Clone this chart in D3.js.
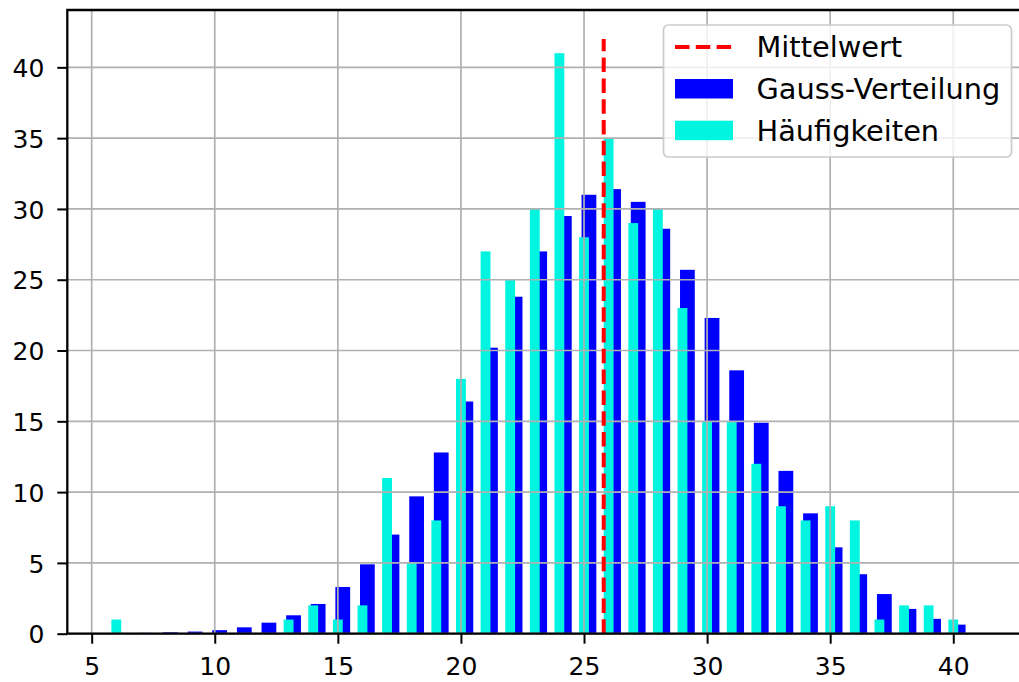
<!DOCTYPE html>
<html>
<head>
<meta charset="utf-8">
<script src="https://d3js.org/d3.v7.min.js"></script>
<style>
    body { margin: 0; background: #fff; }
    text { font-family: 'DejaVu Sans', sans-serif; }
</style>
</head>
<body>
<script>
var werte = [6, 7, 8, 9, 10, 11, 12, 13, 14, 15, 16, 17, 18, 19, 20, 21, 22, 23,
             24, 25, 26, 27, 28, 29, 30, 31, 32, 33, 34, 35, 36, 37, 38, 39, 40];

var haeufigkeiten = [1, 0, 0, 0, 0, 0, 0, 1, 2, 1, 2, 11, 5, 8, 18, 27, 25, 30,
                     41, 28, 35, 29, 30, 23, 15, 15, 12, 9, 8, 9, 8, 1, 2, 2, 1];

var gauss = [0.03, 0.06, 0.1, 0.15, 0.25, 0.45, 0.78, 1.3, 2.1, 3.3, 4.9, 7.0, 9.7, 12.8,
             16.4, 20.2, 23.8, 27.0, 29.5, 31.0, 31.4, 30.5, 28.6, 25.7, 22.3, 18.6,
             14.9, 11.5, 8.5, 6.1, 4.2, 2.8, 1.75, 1.05, 0.64];

var mittelwert = 25.8;
var mittelHoehe = 42;

var xTicks = [5, 10, 15, 20, 25, 30, 35, 40];
var yTicks = [0, 5, 10, 15, 20, 25, 30, 35, 40];

var legende = ['Mittelwert', 'Gauss-Verteilung', 'Häufigkeiten'];

var W = 1019, H = 682;
var BLAU = '#0000ff', TUERKIS = '#00f5e1', ROT = '#ff0000';

var x = d3.scaleLinear().domain([4.01, 42.8]).range([67.3, 1022.2]);
var y = d3.scaleLinear().domain([0, 44.05]).range([633.7, 10]);

var svg = d3.select('body').append('svg')
    .attr('width', W)
    .attr('height', H);

// blaue Balken (Gauss), leicht nach rechts versetzt
svg.append('g').selectAll('rect')
    .data(werte)
    .enter().append('rect')
    .attr('x', function(d) { return x(d - 0.1); })
    .attr('width', function(d) { return x(d + 0.5) - x(d - 0.1); })
    .attr('y', function(d, i) { return y(gauss[i]); })
    .attr('height', function(d, i) { return y(0) - y(gauss[i]); })
    .attr('fill', BLAU);

// tuerkise Balken (Haeufigkeiten)
svg.append('g').selectAll('rect')
    .data(werte)
    .enter().append('rect')
    .attr('x', function(d) { return x(d - 0.2); })
    .attr('width', function(d) { return x(d + 0.2) - x(d - 0.2); })
    .attr('y', function(d, i) { return y(haeufigkeiten[i]); })
    .attr('height', function(d, i) { return y(0) - y(haeufigkeiten[i]); })
    .attr('fill', TUERKIS);

// Gitter
var grid = svg.append('g')
    .attr('stroke', '#b0b0b0')
    .attr('stroke-width', 1.7);

grid.selectAll('.gx')
    .data(xTicks)
    .enter().append('line')
    .attr('x1', function(d) { return x(d); })
    .attr('x2', function(d) { return x(d); })
    .attr('y1', y.range()[0])
    .attr('y2', y.range()[1]);

grid.selectAll('.gy')
    .data(yTicks)
    .enter().append('line')
    .attr('x1', x.range()[0])
    .attr('x2', x.range()[1])
    .attr('y1', function(d) { return y(d); })
    .attr('y2', function(d) { return y(d); });

// Mittelwert
svg.append('path')
    .attr('d', 'M' + [x(mittelwert), y(0)] + ' L' + [x(mittelwert), y(mittelHoehe)])
    .attr('stroke', ROT)
    .attr('stroke-width', 4)
    .attr('stroke-dasharray', '14.5,6.3')
    .attr('fill', 'none');

// Achsen
var xAxis = svg.append('g')
    .attr('transform', 'translate(0,' + y(0) + ')')
    .call(d3.axisBottom(x).tickValues(xTicks).tickSize(10).tickPadding(12).tickFormat(d3.format('d')));

var yAxis = svg.append('g')
    .attr('transform', 'translate(' + x.range()[0] + ',0)')
    .call(d3.axisLeft(y).tickValues(yTicks).tickSize(10).tickPadding(13).tickFormat(d3.format('d')));

[xAxis, yAxis].forEach(function(a) {
    a.select('.domain').remove();
    a.selectAll('.tick line').attr('stroke', '#000').attr('stroke-width', 2);
    a.selectAll('.tick text')
        .attr('fill', '#000')
        .style('font-size', '25px')
        .style('font-family', "'DejaVu Sans', sans-serif");
});
xAxis.selectAll('.tick text').attr('dy', '0.76em');
yAxis.selectAll('.tick text').attr('dy', '0.37em');

// Rahmen
svg.append('path')
    .attr('d', 'M' + [x.range()[0], y.range()[0]] + ' L' + [x.range()[0], y.range()[1]] +
               ' L' + [x.range()[1], y.range()[1]])
    .attr('fill', 'none')
    .attr('stroke', '#000')
    .attr('stroke-width', 2.3);
svg.append('path')
    .attr('d', 'M' + [x.range()[0] - 1, y.range()[0]] + ' L' + [x.range()[1], y.range()[0]])
    .attr('stroke', '#000')
    .attr('stroke-width', 2.3);

// Legende
var leg = svg.append('g');

leg.append('rect')
    .attr('x', 663.5)
    .attr('y', 25)
    .attr('width', 348)
    .attr('height', 132)
    .attr('rx', 5)
    .attr('fill', '#fff')
    .attr('fill-opacity', 0.8)
    .attr('stroke', '#cccccc')
    .attr('stroke-width', 1.7);

leg.append('path')
    .attr('d', 'M' + [675, 47] + ' L' + [733, 47])
    .attr('stroke', ROT)
    .attr('stroke-width', 4)
    .attr('stroke-dasharray', '14.5,6.3');

[BLAU, TUERKIS].forEach(function(c, i) {
    leg.append('rect')
        .attr('x', 675)
        .attr('y', 79 + i * 41.7)
        .attr('width', 58)
        .attr('height', 19.5)
        .attr('fill', c);
});

leg.selectAll('text')
    .data(legende)
    .enter().append('text')
    .attr('x', 756.5)
    .attr('y', function(d, i) { return 57.3 + i * 41.7; })
    .style('font-size', '28.8px')
    .attr('fill', '#000')
    .text(function(d) { return d; });
</script>
</body>
</html>
